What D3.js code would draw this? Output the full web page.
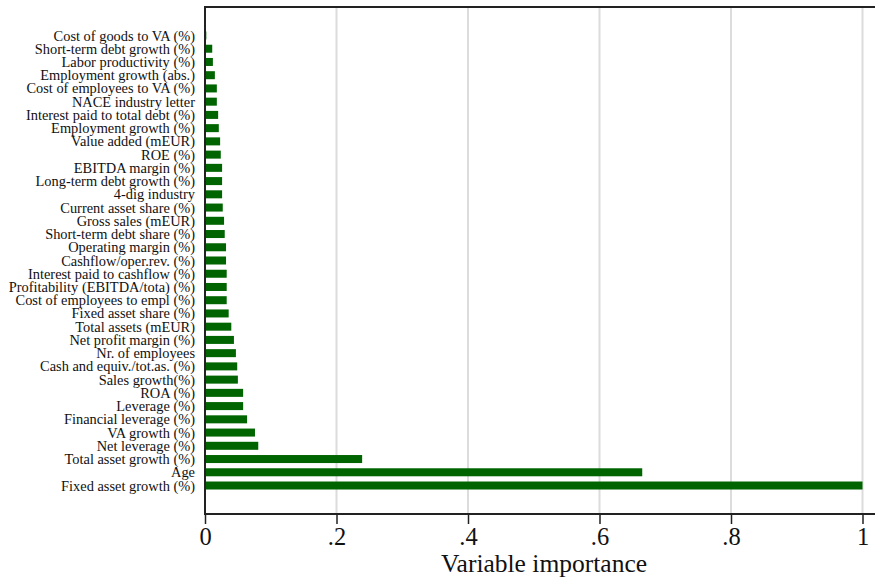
<!DOCTYPE html>
<html>
<head>
<meta charset="utf-8">
<script src="https://cdn.jsdelivr.net/npm/d3@7/dist/d3.min.js"></script>
<style>
  html, body { margin: 0; padding: 0; background: #fff; }
  svg { display: block; }
  text { font-family: "Liberation Serif", "Times New Roman", "DejaVu Serif", serif; fill: #111; }
</style>
</head>
<body>
<svg id="chart" width="875" height="578"></svg>
<script>
// Variable names, listed top to bottom
const variables = [
  "Cost of goods to VA (%)",
  "Short-term debt growth (%)",
  "Labor productivity (%)",
  "Employment growth (abs.)",
  "Cost of employees to VA (%)",
  "NACE industry letter",
  "Interest paid to total debt (%)",
  "Employment growth (%)",
  "Value added (mEUR)",
  "ROE (%)",
  "EBITDA margin (%)",
  "Long-term debt growth (%)",
  "4-dig industry",
  "Current asset share (%)",
  "Gross sales (mEUR)",
  "Short-term debt share (%)",
  "Operating margin (%)",
  "Cashflow/oper.rev. (%)",
  "Interest paid to cashflow (%)",
  "Profitability (EBITDA/tota) (%)",
  "Cost of employees to empl (%)",
  "Fixed asset share (%)",
  "Total assets (mEUR)",
  "Net profit margin (%)",
  "Nr. of employees",
  "Cash and equiv./tot.as. (%)",
  "Sales growth(%)",
  "ROA (%)",
  "Leverage (%)",
  "Financial leverage (%)",
  "VA growth (%)",
  "Net leverage (%)",
  "Total asset growth (%)",
  "Age",
  "Fixed asset growth (%)"
];

// Relative importance of each variable (same order)
const importance = [
  0.002, 0.011, 0.012, 0.015, 0.018, 0.018, 0.020, 0.021, 0.023, 0.024,
  0.026, 0.026, 0.026, 0.027, 0.029, 0.030, 0.032, 0.032, 0.033, 0.033,
  0.033, 0.036, 0.040, 0.044, 0.047, 0.049, 0.050, 0.058, 0.058, 0.064,
  0.076, 0.081, 0.239, 0.665, 1.000
];

const xTicks = [0, 0.2, 0.4, 0.6, 0.8, 1];
const xTickLabels = ["0", ".2", ".4", ".6", ".8", "1"];
const xTitle = "Variable importance";

const svg = d3.select("#chart");
const plot = { left: 205, right: 875, top: 7, bottom: 514 };

const x = d3.scaleLinear().domain([0, 1]).range([plot.left, 862.5]);
const y = d3.scaleBand()
  .domain(variables)
  .range([plot.top, plot.bottom])
  .paddingInner(0.395)
  .paddingOuter(1.85);

// Vertical grid lines
svg.append("g")
  .selectAll("line")
  .data(xTicks.filter(d => d > 0))
  .join("line")
  .attr("x1", d => x(d)).attr("x2", d => x(d))
  .attr("y1", plot.top).attr("y2", plot.bottom)
  .attr("stroke", "#dcdcdc")
  .attr("stroke-width", 2);

// Bars
svg.append("g")
  .selectAll("rect")
  .data(variables.map((v, i) => ({ name: v, value: importance[i] })))
  .join("rect")
  .attr("x", x(0) + 1)
  .attr("y", d => y(d.name))
  .attr("width", d => Math.max(0, x(d.value) - x(0) - 1))
  .attr("height", y.bandwidth())
  .attr("fill", "#006400");

// Category labels
svg.append("g")
  .selectAll("text")
  .data(variables)
  .join("text")
  .attr("x", plot.left - 10)
  .attr("y", d => y(d) + y.bandwidth() / 2)
  .attr("dy", "0.35em")
  .attr("text-anchor", "end")
  .attr("font-size", 14.4)
  .text(d => d);

// Frame: top border and left axis line
svg.append("line")
  .attr("x1", plot.left).attr("x2", plot.right)
  .attr("y1", plot.top).attr("y2", plot.top)
  .attr("stroke", "#222").attr("stroke-width", 2);
svg.append("line")
  .attr("x1", plot.left).attr("x2", plot.left)
  .attr("y1", plot.top - 1).attr("y2", plot.bottom)
  .attr("stroke", "#222").attr("stroke-width", 2);

// Bottom axis
const xAxis = d3.axisBottom(x)
  .tickValues(xTicks)
  .tickFormat((d, i) => xTickLabels[i])
  .tickSize(10)
  .tickPadding(4);
const gx = svg.append("g")
  .attr("transform", `translate(0,${plot.bottom})`)
  .call(xAxis);
gx.select(".domain").remove();
gx.append("line")
  .attr("x1", plot.left - 1).attr("x2", plot.right)
  .attr("y1", 0).attr("y2", 0)
  .attr("stroke", "#222").attr("stroke-width", 2);
gx.selectAll(".tick line").attr("stroke", "#222").attr("stroke-width", 1.5);
gx.selectAll(".tick text")
  .attr("font-family", "'Liberation Serif', 'Times New Roman', serif")
  .attr("font-size", 24.5)
  .attr("fill", "#111");

// Axis title
svg.append("text")
  .attr("x", 544)
  .attr("y", 572)
  .attr("text-anchor", "middle")
  .attr("font-size", 25.5)
  .text(xTitle);
</script>
</body>
</html>
